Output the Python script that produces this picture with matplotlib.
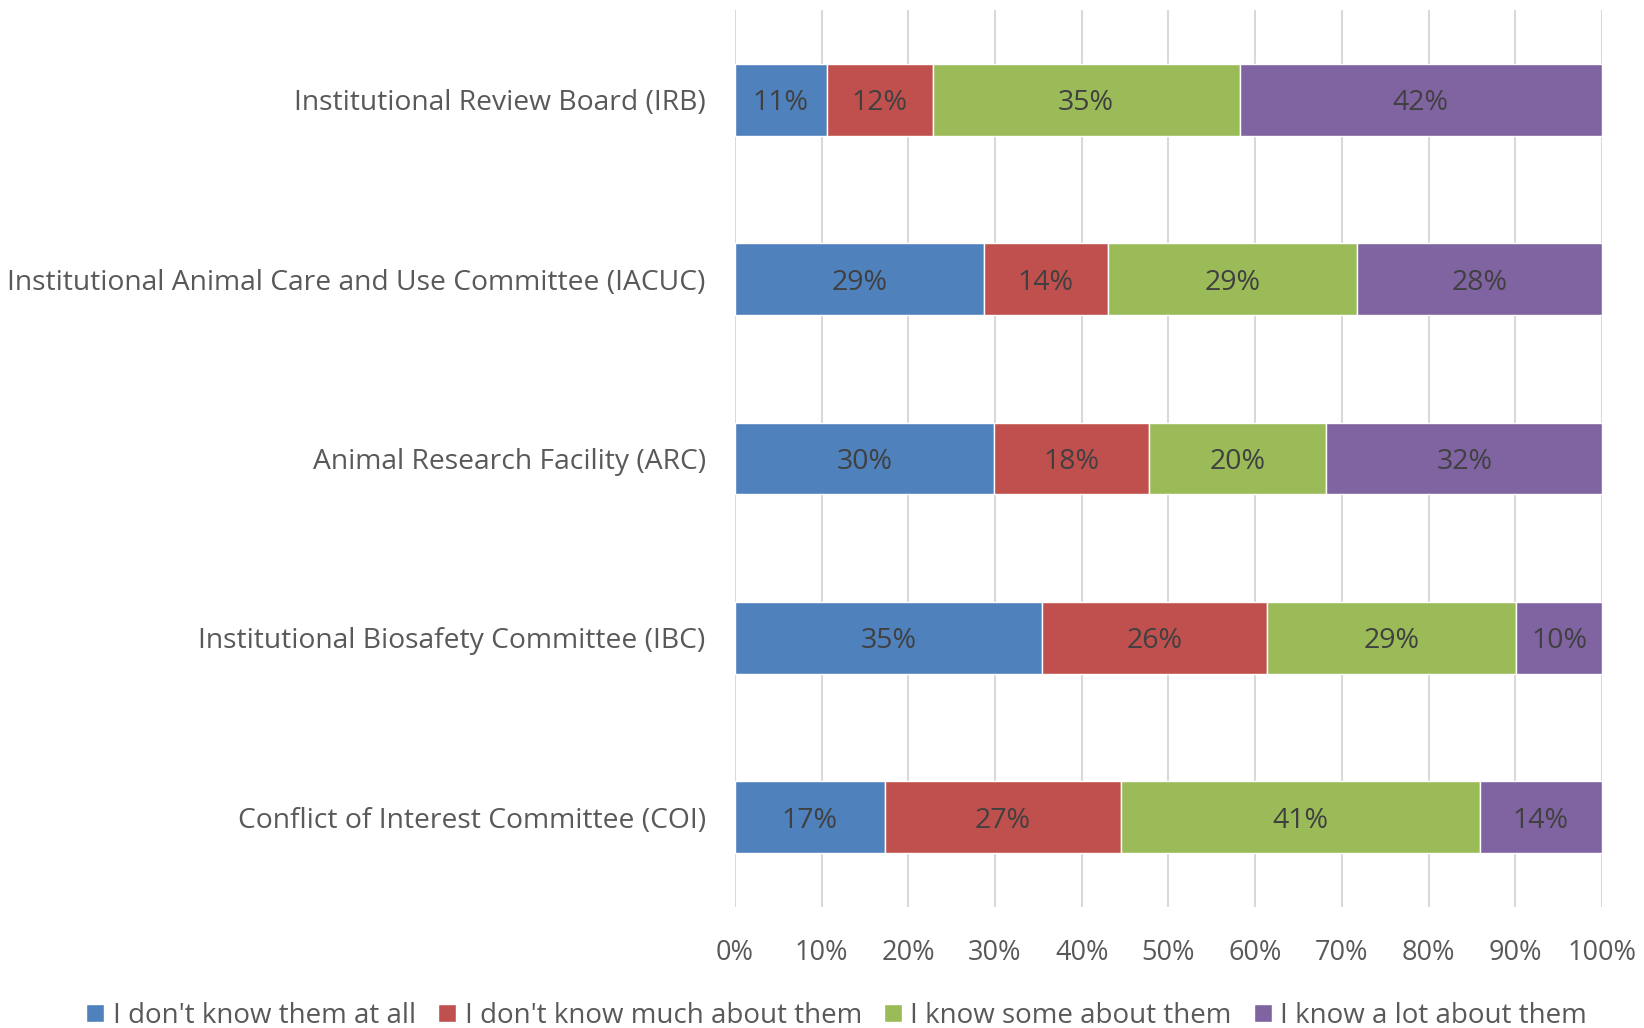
import matplotlib.pyplot as plt
import numpy as np

# datos (porcentajes)
categorias = ['Institutional Review Board (IRB)',
              'Institutional Animal Care and Use Committee (IACUC)',
              'Animal Research Facility (ARC)',
              'Institutional Biosafety Committee (IBC)',
              'Conflict of Interest Committee (COI)']
no_conoce = [10.6, 28.7, 29.9, 35.4, 17.3]
poco = [12.2, 14.3, 17.9, 26.0, 27.2]
algo = [35.4, 28.7, 20.4, 28.7, 41.4]
mucho = [41.8, 28.3, 31.8, 9.9, 14.1]
series_nombres = ["I don't know them at all", "I don't know much about them",
                  "I know some about them", "I know a lot about them"]
colores = ['#4F81BD', '#C0504D', '#9BBB59', '#8064A2']

plt.rcParams['font.family'] = ['Open Sans', 'DejaVu Sans']

fig = plt.figure(figsize=(16.44, 10.28), dpi=100)
ax = fig.add_axes([0.447, 0.118, 0.5275, 0.872])

y = np.arange(len(categorias))
izquierda = np.zeros(len(categorias))
for valores, nombre, color in zip([no_conoce, poco, algo, mucho], series_nombres, colores):
    valores = np.array(valores)
    barras = ax.barh(y, valores, left=izquierda, height=0.4, color=color,
                     edgecolor='white', linewidth=1, label=nombre, zorder=3)
    for b, v in zip(barras, valores):
        ax.text(b.get_x() + b.get_width() / 2, b.get_y() + b.get_height() / 2,
                f'{round(v):.0f}%', ha='center', va='center_baseline', fontsize=20.5,
                color='#404040', zorder=4)
    izquierda += valores

ax.set_xlim(0, 100)
ax.set_ylim(4.5, -0.5)
ax.set_xticks(np.arange(0, 101, 10))
ax.set_xticklabels([f'{t}%' for t in range(0, 101, 10)])
ax.set_yticks(y)
ax.set_yticklabels(categorias)
ax.tick_params(axis='x', length=0, labelsize=19.5, labelcolor='#595959', pad=23)
ax.tick_params(axis='y', length=0, labelsize=20.3, labelcolor='#595959', pad=21)
ax.grid(axis='x', color='#D9D9D9', linewidth=1.5, zorder=0)
for s in ax.spines.values():
    s.set_visible(False)

fig.legend(loc='center', bbox_to_anchor=(0.509, 0.012), ncol=4, frameon=False,
           fontsize=20, labelcolor='#595959', handlelength=0.65, handleheight=0.65,
           handletextpad=0.3, columnspacing=0.8)

plt.savefig('out.png', dpi=100)
plt.close()
